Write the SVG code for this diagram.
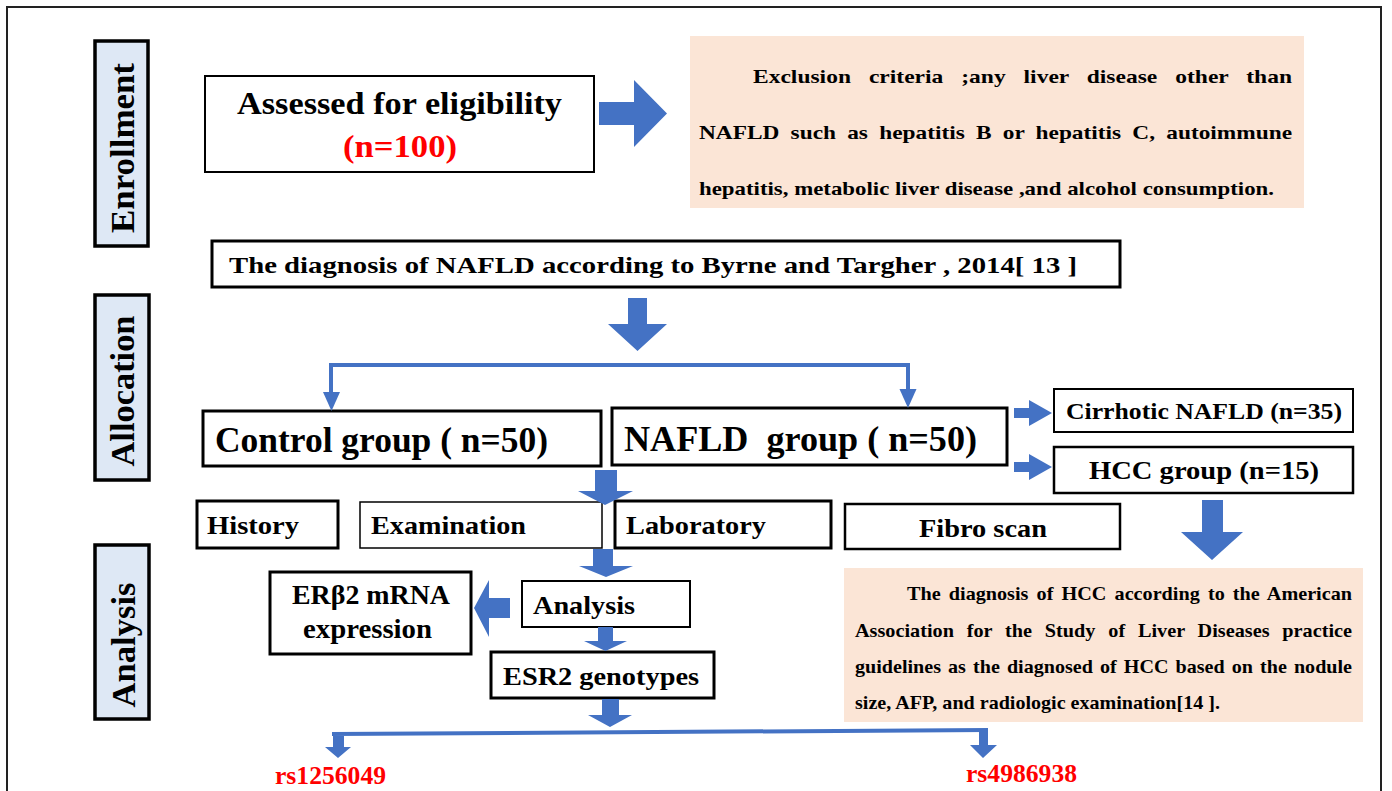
<svg xmlns="http://www.w3.org/2000/svg" width="1392" height="791" viewBox="0 0 1392 791">
<defs>
<style>
text{font-family:"Liberation Serif","Times New Roman",serif;font-weight:bold;fill:#000}
.red{fill:#ff0000}
.box{fill:#fff;stroke:#000}
.lab{fill:#dee8f5;stroke:#000;stroke-width:3.5}
.peach{fill:#fbe5d6}
.arr{fill:#4472c4}
.ln{fill:none;stroke:#4472c4;stroke-width:4}
</style>
</defs>
<rect x="0" y="0" width="1392" height="791" fill="#fff"/>
<rect x="7" y="7" width="1374" height="800" fill="none" stroke="#222" stroke-width="2"/>

<g id="label-enrollment">
<rect class="lab" x="95" y="41" width="53" height="205"/>
<text transform="translate(134,148) rotate(-90)" text-anchor="middle" font-size="34" textLength="170" lengthAdjust="spacingAndGlyphs">Enrollment</text>
</g>
<g id="label-allocation">
<rect class="lab" x="95" y="295" width="54" height="185"/>
<text transform="translate(134,391) rotate(-90)" text-anchor="middle" font-size="34" textLength="151" lengthAdjust="spacingAndGlyphs">Allocation</text>
</g>
<g id="label-analysis">
<rect class="lab" x="95" y="545" width="54" height="174"/>
<text transform="translate(135,645) rotate(-90)" text-anchor="middle" font-size="34" textLength="125" lengthAdjust="spacingAndGlyphs">Analysis</text>
</g>

<g id="assessed">
<rect class="box" stroke-width="2" x="205" y="76" width="389" height="96"/>
<text x="237" y="114" font-size="31" textLength="325" lengthAdjust="spacingAndGlyphs">Assessed for eligibility</text>
<text class="red" x="343" y="157" font-size="31" textLength="114" lengthAdjust="spacingAndGlyphs">(n=100)</text>
</g>

<g id="exclusion">
<rect class="peach" x="690" y="36" width="614" height="172"/>
<text x="753" y="83" font-size="19.5" word-spacing="10" textLength="539" lengthAdjust="spacingAndGlyphs">Exclusion criteria ;any liver disease other than</text>
<text x="699" y="139" font-size="19.5" word-spacing="4.5" textLength="593" lengthAdjust="spacingAndGlyphs">NAFLD such as hepatitis B or hepatitis C, autoimmune</text>
<text x="699" y="195" font-size="19.5" textLength="575" lengthAdjust="spacingAndGlyphs">hepatitis, metabolic liver disease ,and alcohol consumption.</text>
</g>

<g id="diagnosis-nafld">
<rect class="box" stroke-width="3" x="212" y="241" width="908" height="46"/>
<text x="229" y="273" font-size="23.5" textLength="848" lengthAdjust="spacingAndGlyphs">The diagnosis of NAFLD according to Byrne and Targher , 2014[ 13 ]</text>
</g>

<g id="control">
<rect class="box" stroke-width="3" x="203" y="411" width="398" height="55"/>
<text x="215" y="452" font-size="35" textLength="333" lengthAdjust="spacingAndGlyphs">Control group ( n=50)</text>
</g>
<g id="nafld">
<rect class="box" stroke-width="3" x="612" y="408" width="395" height="57"/>
<text x="624" y="451" font-size="35" textLength="353" lengthAdjust="spacingAndGlyphs" style="white-space:pre">NAFLD  group ( n=50)</text>
</g>
<g id="cirrhotic">
<rect class="box" stroke-width="2" x="1054" y="389" width="299" height="43"/>
<text x="1066" y="419" font-size="23" textLength="276" lengthAdjust="spacingAndGlyphs">Cirrhotic NAFLD (n=35)</text>
</g>
<g id="hcc">
<rect class="box" stroke-width="2.5" x="1054" y="447" width="299" height="46"/>
<text x="1089" y="479" font-size="25" textLength="230" lengthAdjust="spacingAndGlyphs">HCC group (n=15)</text>
</g>

<g id="history">
<rect class="box" stroke-width="3" x="197" y="501" width="141" height="47"/>
<text x="207" y="534" font-size="25" textLength="92" lengthAdjust="spacingAndGlyphs">History</text>
</g>
<g id="examination">
<rect class="box" stroke-width="1.5" x="360" y="502" width="242" height="46"/>
<text x="371" y="534" font-size="25" textLength="155" lengthAdjust="spacingAndGlyphs">Examination</text>
</g>
<g id="laboratory">
<rect class="box" stroke-width="3" x="615" y="501" width="216" height="47"/>
<text x="626" y="534" font-size="25" textLength="140" lengthAdjust="spacingAndGlyphs">Laboratory</text>
</g>
<g id="fibroscan">
<rect class="box" stroke-width="2.5" x="845" y="504" width="275" height="45"/>
<text x="919" y="537" font-size="26" textLength="128" lengthAdjust="spacingAndGlyphs">Fibro scan</text>
</g>

<g id="hcc-diagnosis">
<rect class="peach" x="844" y="568" width="519" height="154"/>
<text x="907" y="600" font-size="19.5" word-spacing="3" textLength="445" lengthAdjust="spacingAndGlyphs">The diagnosis of HCC according to the American</text>
<text x="855" y="637" font-size="19.5" word-spacing="7.5" textLength="497" lengthAdjust="spacingAndGlyphs">Association for the Study of Liver Diseases practice</text>
<text x="855" y="673" font-size="19.5" word-spacing="2" textLength="497" lengthAdjust="spacingAndGlyphs">guidelines as the diagnosed of HCC based on the nodule</text>
<text x="855" y="709" font-size="19.5" textLength="365" lengthAdjust="spacingAndGlyphs">size, AFP, and radiologic examination[14 ].</text>
</g>

<g id="analysis">
<rect class="box" stroke-width="2" x="522" y="581" width="168" height="46"/>
<text x="533" y="614" font-size="25" textLength="102" lengthAdjust="spacingAndGlyphs">Analysis</text>
</g>
<g id="erb2">
<rect class="box" stroke-width="3" x="270" y="572" width="201" height="82"/>
<text x="292" y="604" font-size="27" textLength="158" lengthAdjust="spacingAndGlyphs">ERβ2 mRNA</text>
<text x="303" y="638" font-size="27" textLength="129" lengthAdjust="spacingAndGlyphs">expression</text>
</g>
<g id="esr2">
<rect class="box" stroke-width="3" x="491" y="652" width="223" height="46"/>
<text x="503" y="685" font-size="25" textLength="196" lengthAdjust="spacingAndGlyphs">ESR2 genotypes</text>
</g>

<g id="rs1256049">
<text class="red" x="275" y="784" font-size="25" textLength="111" lengthAdjust="spacingAndGlyphs">rs1256049</text>
</g>
<g id="rs4986938">
<text class="red" x="966" y="782" font-size="25" textLength="111" lengthAdjust="spacingAndGlyphs">rs4986938</text>
</g>

<g id="connectors">
<polygon class="arr" points="599,102 634,102 634,80 667,113.5 634,147 634,125 599,125"/>
<polygon class="arr" points="628,298 647,298 647,324 667,324 637.5,351 608,324 628,324"/>
<polyline class="ln" points="331,393 331,365 908,365 908,391"/>
<polygon class="arr" points="323,392 340,392 331.5,411"/>
<polygon class="arr" points="899.5,389 916.5,389 908,408"/>
<polygon class="arr" points="1014,408 1029,408 1029,400 1052,413 1029,426 1029,418 1014,418"/>
<polygon class="arr" points="1014,462 1029,462 1029,454 1052,467 1029,480 1029,472 1014,472"/>
<polygon class="arr" points="595,470 617,470 617,491 633,491 605,505 578,491 595,491"/>
<polygon class="arr" points="1202,500 1223,500 1223,532 1243,532 1212,560 1181,532 1202,532"/>
<polygon class="arr" points="593,549 613,549 613,566 633,566 606,577 579,566 593,566"/>
<polygon class="arr" points="510,598 510,618 489,618 489,637 474,608 489,580 489,598"/>
<polygon class="arr" points="598,627 613,627 613,641 627,641 605.5,651 584,641 598,641"/>
<polygon class="arr" points="602,699 619,699 619,715 632,715 610,727 588,715 602,715"/>
<polyline class="ln" points="332,734 988,730"/>
<polygon class="arr" points="333,736 344,736 344,747 351,747 338,758 325,747 333,747"/>
<polygon class="arr" points="979,730 988,730 988,745 997,745 983,758 970,745 979,745"/>
</g>
</svg>
